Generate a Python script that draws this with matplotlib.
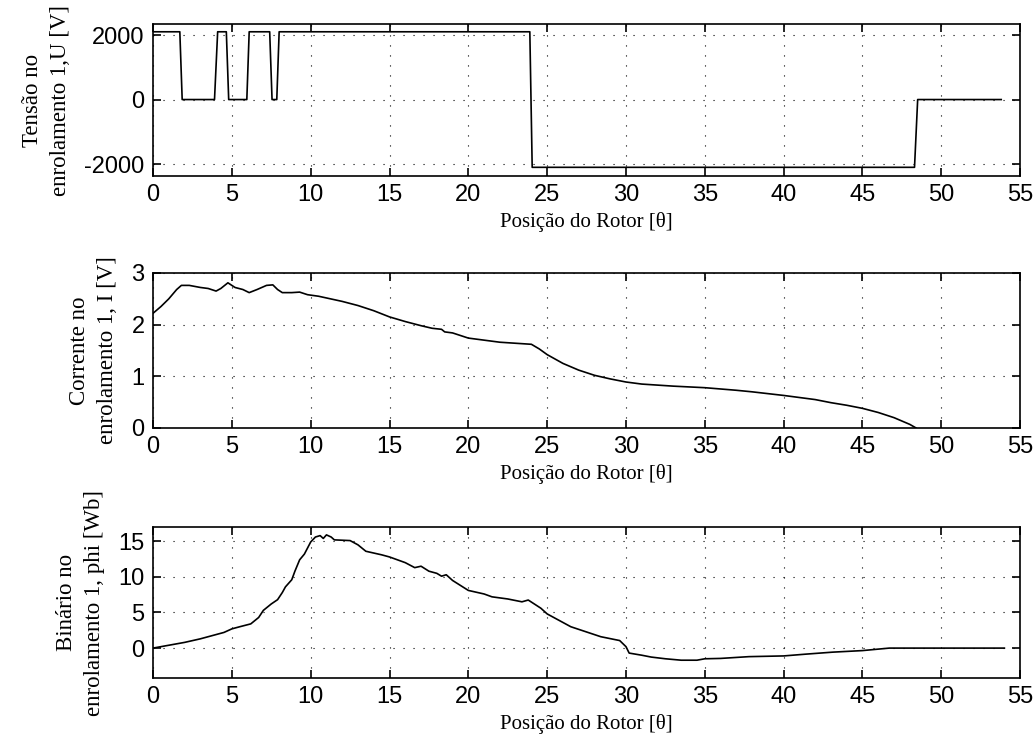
import matplotlib
matplotlib.use("Agg")
import matplotlib.pyplot as plt

plt.rcParams["axes.unicode_minus"] = False

# Tensão no enrolamento 1 (degraus do conversor)
theta_u = [0, 1.7, 1.85, 3.9, 4.1, 4.65, 4.8, 5.95, 6.1, 7.4, 7.55, 7.85, 8.0,
           23.9, 24.05, 48.3, 48.5, 53.8]
tensao = [2100, 2100, 0, 0, 2100, 2100, 0, 0, 2100, 2100, 0, 0, 2100,
          2100, -2100, -2100, 0, 0]

# Corrente no enrolamento 1
theta_i = [0, 0.5, 1.0, 1.5, 1.8, 2.3, 3.0, 3.5, 4.0, 4.3, 4.75, 5.2, 5.7, 6.1,
           6.6, 7.2, 7.6, 7.9, 8.2, 8.8, 9.3, 9.8, 10.5, 12, 13, 14, 15, 16,
           17, 17.7, 18.3, 18.5, 19, 20, 21, 22, 23, 24, 24.5, 25, 26, 27, 28,
           29, 30, 31, 33, 35, 37, 38, 40, 41, 42, 43, 44, 45, 46, 47, 48, 48.4]
corrente = [2.22, 2.35, 2.5, 2.68, 2.76, 2.76, 2.72, 2.70, 2.65, 2.70, 2.81,
            2.72, 2.68, 2.62, 2.68, 2.76, 2.77, 2.68, 2.62, 2.62, 2.63, 2.58,
            2.55, 2.45, 2.37, 2.27, 2.15, 2.06, 1.98, 1.93, 1.91, 1.86, 1.84,
            1.74, 1.70, 1.66, 1.64, 1.62, 1.53, 1.42, 1.25, 1.12, 1.02, 0.95,
            0.89, 0.85, 0.81, 0.78, 0.73, 0.70, 0.63, 0.59, 0.55, 0.49, 0.44,
            0.38, 0.30, 0.20, 0.07, 0.0]

# Fluxo (phi) no enrolamento 1
theta_phi = [0, 0.5, 1, 2, 3, 4, 4.5, 5, 5.5, 6.2, 6.7, 7.0, 7.5, 7.9, 8.2,
             8.4, 8.8, 9.0, 9.3, 9.6, 10, 10.3, 10.6, 10.8, 11.0, 11.3, 11.5,
             12.5, 13, 13.5, 14.5, 15, 16, 16.6, 17, 17.5, 18, 18.3, 18.6, 19,
             20, 21, 21.5, 22.5, 23.4, 23.8, 24.6, 25, 26.5, 28.4, 29.6, 30,
             30.2, 31, 31.6, 32.5, 33.5, 34.5, 35, 36, 37.8, 40, 41.4, 43.1,
             45, 46.7, 54]
phi = [0.0, 0.2, 0.4, 0.8, 1.3, 1.9, 2.2, 2.7, 3.0, 3.4, 4.3, 5.3, 6.2, 6.8,
       7.8, 8.6, 9.6, 10.8, 12.4, 13.2, 14.9, 15.6, 15.8, 15.4, 15.9, 15.6,
       15.2, 15.1, 14.5, 13.6, 13.1, 12.8, 12.0, 11.3, 11.5, 10.8, 10.5, 10.1,
       10.3, 9.5, 8.1, 7.6, 7.2, 6.9, 6.5, 6.75, 5.6, 4.8, 3.0, 1.6, 1.06, 0.2,
       -0.7, -1.0, -1.26, -1.5, -1.7, -1.7, -1.5, -1.45, -1.2, -1.1, -0.85,
       -0.57, -0.35, 0.0, 0.0]

xticks = [0, 5, 10, 15, 20, 25, 30, 35, 40, 45, 50, 55]
xlab = "Posição do Rotor [θ]"

tick_font = "Liberation Sans"
lab_font = "Liberation Serif"

fig = plt.figure(figsize=(10.36, 7.51), dpi=100)
L, W = 0.1477, 0.837
ax1 = fig.add_axes([L, 0.7656, W, 0.2024])
ax2 = fig.add_axes([L, 0.4301, W, 0.2064])
ax3 = fig.add_axes([L, 0.0972, W, 0.2010])

ax1.plot(theta_u, tensao, color="k", lw=1.2)
ax1.set_ylim(-2370, 2340)
ax1.set_yticks([-2000, 0, 2000])
ax1.set_ylabel("Tensão no\nenrolamento 1,U [V]")

ax2.plot(theta_i, corrente, color="k", lw=1.2)
ax2.set_ylim(0, 3)
ax2.set_yticks([0, 1, 2, 3])
ax2.set_ylabel("Corrente no\nenrolamento 1, I [V]")

ax3.plot(theta_phi, phi, color="k", lw=1.2)
ax3.set_ylim(-4.2, 17)
ax3.set_yticks([0, 5, 10, 15])
ax3.set_ylabel("Binário no\nenrolamento 1, phi [Wb]")

for ax in (ax1, ax2, ax3):
    ax.set_xlim(0, 55)
    ax.set_xticks(xticks)
    ax.set_xlabel(xlab, fontsize=15, family=lab_font, labelpad=4)
    ax.yaxis.label.set_fontsize(16.5)
    ax.yaxis.label.set_family(lab_font)
    ax.yaxis.label.set_linespacing(1.4)
    ax.yaxis.labelpad = 10
    ax.grid(True, color="k", linestyle=(0, (1, 8)), linewidth=0.8)
    ax.tick_params(direction="in", length=6, width=1.2, top=True, right=True,
                   labelsize=17, pad=6)
    for lbl in ax.get_xticklabels() + ax.get_yticklabels():
        lbl.set_family(tick_font)
    for s in ax.spines.values():
        s.set_linewidth(1.2)

fig.savefig("out.png", dpi=100)
